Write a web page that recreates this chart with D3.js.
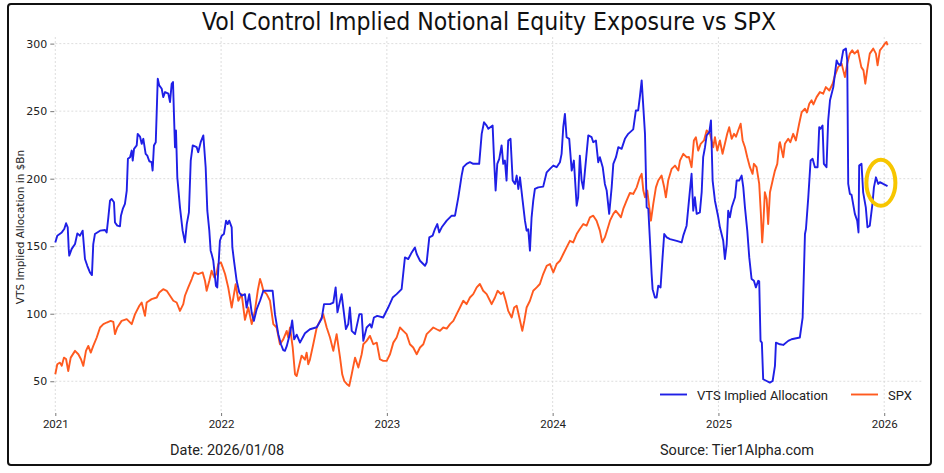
<!DOCTYPE html>
<html>
<head>
<meta charset="utf-8">
<script src="https://cdn.jsdelivr.net/npm/d3@7"></script>
<style>
  html, body { margin: 0; padding: 0; background: #fff; }
  svg { display: block; }
  .grid line { stroke: #d4d4d4; stroke-width: 0.8; stroke-dasharray: 2,2; }
  .axis path { display: none; }
  .axis line { stroke: #555; stroke-width: 0.8; }
</style>
</head>
<body>
<svg id="chart" width="944" height="473"></svg>
<script>
// VTS implied allocation ($Bn), [decimal year, value]
var vtsSeries = [[2021.000,152.8],[2021.012,157.8],[2021.039,160.2],[2021.054,162.7],[2021.065,167.0],[2021.075,164.0],[2021.081,148.0],[2021.084,143.0],[2021.099,148.0],[2021.119,151.6],[2021.133,159.5],[2021.149,157.8],[2021.165,161.5],[2021.179,140.5],[2021.193,135.5],[2021.209,130.6],[2021.221,128.6],[2021.229,151.6],[2021.239,159.0],[2021.270,161.5],[2021.300,162.0],[2021.310,160.2],[2021.320,171.4],[2021.330,183.7],[2021.340,185.0],[2021.354,182.5],[2021.360,167.6],[2021.374,165.2],[2021.390,164.7],[2021.396,172.6],[2021.407,177.6],[2021.420,181.3],[2021.431,191.2],[2021.438,214.7],[2021.451,215.9],[2021.461,220.8],[2021.467,213.4],[2021.475,222.1],[2021.491,224.6],[2021.497,233.2],[2021.511,231.2],[2021.521,225.8],[2021.531,229.5],[2021.545,218.4],[2021.555,217.1],[2021.567,212.9],[2021.581,212.2],[2021.587,206.0],[2021.595,224.6],[2021.606,227.0],[2021.618,274.0],[2021.627,269.1],[2021.642,266.6],[2021.651,260.4],[2021.662,264.1],[2021.682,262.9],[2021.692,256.7],[2021.702,270.3],[2021.710,271.5],[2021.716,246.8],[2021.722,223.3],[2021.728,235.7],[2021.736,201.0],[2021.752,178.8],[2021.768,161.5],[2021.782,152.8],[2021.793,166.4],[2021.806,175.1],[2021.817,213.4],[2021.829,224.6],[2021.853,223.3],[2021.862,219.6],[2021.877,227.0],[2021.893,232.0],[2021.907,208.5],[2021.917,176.3],[2021.929,161.5],[2021.937,146.7],[2021.943,144.2],[2021.953,139.2],[2021.969,120.7],[2021.977,119.5],[2021.993,154.0],[2022.004,157.8],[2022.017,159.0],[2022.030,168.9],[2022.040,166.4],[2022.049,168.9],[2022.064,164.0],[2022.068,149.1],[2022.078,139.2],[2022.094,124.4],[2022.110,115.7],[2022.124,113.3],[2022.144,114.5],[2022.154,104.6],[2022.170,114.5],[2022.185,100.5],[2022.198,94.7],[2022.215,103.4],[2022.235,109.6],[2022.255,117.0],[2022.295,117.0],[2022.311,117.0],[2022.325,99.7],[2022.345,84.9],[2022.361,77.4],[2022.375,73.0],[2022.385,72.5],[2022.396,76.0],[2022.416,85.5],[2022.429,95.0],[2022.441,81.0],[2022.456,84.5],[2022.476,78.6],[2022.506,85.5],[2022.536,88.5],[2022.577,90.0],[2022.607,96.5],[2022.621,107.1],[2022.657,107.1],[2022.677,108.3],[2022.691,119.5],[2022.702,101.0],[2022.727,114.5],[2022.737,104.6],[2022.753,88.6],[2022.767,92.3],[2022.777,104.6],[2022.788,87.3],[2022.808,84.9],[2022.834,99.7],[2022.848,99.7],[2022.858,79.9],[2022.878,89.8],[2022.898,92.3],[2022.908,89.8],[2022.922,97.2],[2022.942,98.4],[2022.978,97.2],[2023.008,104.6],[2023.035,112.0],[2023.059,114.5],[2023.089,118.2],[2023.109,141.7],[2023.129,140.5],[2023.150,145.4],[2023.169,149.1],[2023.180,144.2],[2023.200,139.2],[2023.230,135.5],[2023.240,137.9],[2023.256,156.5],[2023.276,157.8],[2023.290,162.7],[2023.304,166.4],[2023.316,160.2],[2023.331,164.0],[2023.361,168.9],[2023.391,172.6],[2023.411,172.6],[2023.431,186.2],[2023.451,202.3],[2023.461,208.5],[2023.481,211.0],[2023.501,212.2],[2023.521,211.0],[2023.557,211.0],[2023.572,233.2],[2023.586,241.8],[2023.602,239.3],[2023.612,236.9],[2023.638,239.3],[2023.646,215.9],[2023.656,191.2],[2023.666,211.0],[2023.678,214.7],[2023.692,224.6],[2023.702,211.0],[2023.712,213.4],[2023.722,198.6],[2023.732,228.3],[2023.746,229.5],[2023.759,198.6],[2023.773,196.1],[2023.783,202.3],[2023.793,192.4],[2023.803,201.0],[2023.819,183.7],[2023.833,168.9],[2023.843,161.5],[2023.853,162.5],[2023.863,146.7],[2023.873,171.4],[2023.883,183.7],[2023.893,192.4],[2023.913,193.6],[2023.943,194.1],[2023.964,204.7],[2023.984,207.3],[2024.004,209.7],[2024.024,208.5],[2024.044,212.2],[2024.054,218.4],[2024.064,238.1],[2024.074,248.0],[2024.084,230.7],[2024.100,229.5],[2024.115,206.0],[2024.128,213.4],[2024.145,180.0],[2024.154,186.2],[2024.164,217.1],[2024.175,198.6],[2024.185,192.4],[2024.195,206.0],[2024.215,232.0],[2024.235,230.7],[2024.245,227.0],[2024.261,228.3],[2024.275,212.2],[2024.285,215.9],[2024.302,208.5],[2024.315,196.1],[2024.326,191.2],[2024.341,174.0],[2024.356,193.6],[2024.366,211.0],[2024.382,215.9],[2024.396,223.3],[2024.416,222.1],[2024.436,229.5],[2024.456,233.2],[2024.486,236.5],[2024.502,250.5],[2024.516,250.5],[2024.526,260.4],[2024.537,272.8],[2024.547,253.0],[2024.557,233.2],[2024.567,178.8],[2024.577,177.6],[2024.587,154.0],[2024.597,129.4],[2024.603,118.2],[2024.617,112.0],[2024.627,112.0],[2024.637,120.7],[2024.651,119.5],[2024.663,141.7],[2024.673,159.0],[2024.688,156.5],[2024.708,155.3],[2024.748,154.0],[2024.778,152.8],[2024.788,157.8],[2024.808,165.2],[2024.828,191.2],[2024.838,203.6],[2024.848,176.3],[2024.858,186.2],[2024.869,174.0],[2024.888,175.0],[2024.899,190.0],[2024.908,215.9],[2024.919,223.3],[2024.929,232.0],[2024.945,234.4],[2024.955,243.1],[2024.965,198.6],[2024.979,183.7],[2024.999,171.4],[2025.009,164.0],[2025.029,154.0],[2025.039,140.5],[2025.050,151.6],[2025.059,176.3],[2025.069,171.4],[2025.080,178.8],[2025.100,186.2],[2025.110,198.6],[2025.125,198.6],[2025.140,202.3],[2025.150,193.6],[2025.160,178.8],[2025.174,161.5],[2025.186,141.7],[2025.200,125.7],[2025.214,124.4],[2025.226,119.5],[2025.240,124.4],[2025.246,124.0],[2025.254,79.9],[2025.262,78.6],[2025.270,51.5],[2025.291,50.2],[2025.310,49.0],[2025.327,50.2],[2025.341,61.4],[2025.347,78.6],[2025.371,77.4],[2025.391,76.9],[2025.421,79.9],[2025.441,81.1],[2025.491,82.4],[2025.508,97.2],[2025.522,159.0],[2025.528,162.7],[2025.542,186.2],[2025.556,213.4],[2025.568,214.7],[2025.582,208.5],[2025.598,208.5],[2025.608,238.1],[2025.616,236.9],[2025.628,239.3],[2025.636,211.0],[2025.652,208.5],[2025.662,243.1],[2025.673,258.0],[2025.693,267.8],[2025.703,277.7],[2025.713,287.6],[2025.722,285.2],[2025.737,283.9],[2025.753,295.0],[2025.769,296.3],[2025.777,287.6],[2025.783,196.1],[2025.793,188.7],[2025.803,188.0],[2025.823,173.9],[2025.837,168.9],[2025.845,160.2],[2025.849,209.7],[2025.863,211.0],[2025.873,189.9],[2025.889,178.8],[2025.899,164.0],[2025.913,165.2],[2025.929,181.3],[2025.938,193.6],[2025.950,201.0],[2025.964,196.1],[2025.974,197.4],[2025.994,196.1],[2026.014,194.9],[2026.020,194.5]];

// SPX (scaled onto the same axis), [decimal year, value]
var spxSeries = [[2021.000,55.2],[2021.012,62.6],[2021.028,63.8],[2021.039,61.5],[2021.052,67.5],[2021.065,66.5],[2021.078,57.6],[2021.093,67.5],[2021.119,72.5],[2021.139,70.0],[2021.155,66.3],[2021.169,61.4],[2021.185,72.5],[2021.199,76.2],[2021.214,71.2],[2021.229,76.2],[2021.250,82.4],[2021.270,89.8],[2021.290,92.3],[2021.310,93.5],[2021.334,94.7],[2021.350,94.0],[2021.360,84.9],[2021.374,89.8],[2021.400,94.7],[2021.431,96.0],[2021.461,92.3],[2021.481,99.7],[2021.507,105.9],[2021.521,108.3],[2021.541,98.4],[2021.551,108.3],[2021.581,110.8],[2021.612,112.0],[2021.627,115.7],[2021.651,118.2],[2021.672,117.0],[2021.692,113.3],[2021.712,109.6],[2021.732,108.3],[2021.752,102.1],[2021.772,107.1],[2021.782,113.3],[2021.802,119.5],[2021.823,125.7],[2021.838,130.6],[2021.862,129.4],[2021.889,130.6],[2021.903,124.4],[2021.913,117.0],[2021.929,124.4],[2021.943,131.8],[2021.959,126.9],[2021.973,130.0],[2021.983,136.8],[2021.999,138.0],[2022.010,134.3],[2022.024,129.4],[2022.043,119.5],[2022.064,104.6],[2022.088,121.9],[2022.104,109.6],[2022.124,114.5],[2022.144,95.5],[2022.164,104.6],[2022.185,92.3],[2022.204,102.1],[2022.221,117.0],[2022.235,125.7],[2022.245,122.0],[2022.255,117.0],[2022.275,114.5],[2022.295,109.6],[2022.305,101.0],[2022.315,92.3],[2022.335,89.8],[2022.355,77.4],[2022.375,81.0],[2022.396,87.3],[2022.405,82.4],[2022.416,89.8],[2022.432,75.0],[2022.446,55.2],[2022.456,53.9],[2022.472,62.0],[2022.486,69.0],[2022.506,66.0],[2022.516,71.2],[2022.526,62.6],[2022.536,66.0],[2022.556,77.4],[2022.577,89.8],[2022.597,94.7],[2022.616,99.7],[2022.637,89.8],[2022.657,82.4],[2022.677,72.5],[2022.697,84.9],[2022.717,68.0],[2022.731,55.0],[2022.743,50.2],[2022.758,48.0],[2022.773,46.5],[2022.788,55.2],[2022.808,67.5],[2022.828,60.2],[2022.848,70.0],[2022.858,77.4],[2022.878,79.9],[2022.898,83.6],[2022.918,77.4],[2022.939,78.6],[2022.958,66.3],[2022.978,65.1],[2022.999,65.1],[2023.019,70.0],[2023.039,78.6],[2023.059,82.4],[2023.079,89.8],[2023.099,87.3],[2023.119,84.9],[2023.139,77.4],[2023.159,75.0],[2023.180,70.0],[2023.200,75.0],[2023.220,77.4],[2023.240,84.9],[2023.260,87.3],[2023.280,89.8],[2023.300,88.5],[2023.320,87.3],[2023.340,89.8],[2023.361,89.0],[2023.381,92.3],[2023.401,94.7],[2023.421,99.7],[2023.441,104.6],[2023.461,109.6],[2023.481,107.1],[2023.501,112.0],[2023.521,114.5],[2023.542,119.5],[2023.561,122.0],[2023.581,117.0],[2023.602,114.5],[2023.622,109.6],[2023.632,107.1],[2023.652,112.0],[2023.668,117.0],[2023.688,114.5],[2023.702,116.0],[2023.717,109.6],[2023.732,102.1],[2023.753,97.2],[2023.768,104.6],[2023.783,105.9],[2023.799,97.2],[2023.817,87.3],[2023.829,94.7],[2023.843,104.6],[2023.863,109.6],[2023.883,117.0],[2023.904,119.5],[2023.923,122.0],[2023.943,129.4],[2023.964,135.5],[2023.984,136.8],[2024.004,130.6],[2024.024,136.8],[2024.044,139.2],[2024.064,144.2],[2024.084,149.1],[2024.104,154.0],[2024.124,152.8],[2024.145,159.0],[2024.164,162.7],[2024.185,166.4],[2024.205,165.2],[2024.225,171.4],[2024.245,172.6],[2024.265,168.9],[2024.285,161.5],[2024.299,152.8],[2024.315,156.5],[2024.331,162.7],[2024.346,168.9],[2024.366,173.9],[2024.380,176.3],[2024.396,173.9],[2024.412,171.4],[2024.426,177.6],[2024.446,183.7],[2024.466,189.5],[2024.486,188.7],[2024.507,193.6],[2024.526,201.0],[2024.537,203.6],[2024.547,191.2],[2024.557,186.2],[2024.571,191.2],[2024.583,178.8],[2024.593,168.9],[2024.607,181.3],[2024.623,193.6],[2024.637,198.6],[2024.657,202.3],[2024.673,193.6],[2024.683,186.2],[2024.697,198.6],[2024.718,207.3],[2024.738,209.7],[2024.758,206.0],[2024.768,213.4],[2024.788,218.4],[2024.808,215.9],[2024.822,216.0],[2024.838,208.5],[2024.852,228.3],[2024.864,230.7],[2024.878,220.8],[2024.893,225.8],[2024.913,228.3],[2024.929,235.7],[2024.949,233.2],[2024.969,223.3],[2024.979,230.7],[2024.993,220.8],[2025.009,228.3],[2025.025,218.4],[2025.039,225.8],[2025.053,233.2],[2025.065,238.1],[2025.080,229.5],[2025.094,233.2],[2025.106,231.0],[2025.119,235.7],[2025.134,240.7],[2025.146,228.3],[2025.160,223.3],[2025.174,215.9],[2025.190,208.5],[2025.206,203.6],[2025.214,211.0],[2025.230,208.5],[2025.246,196.1],[2025.256,174.0],[2025.264,152.8],[2025.270,164.0],[2025.280,190.0],[2025.291,185.0],[2025.300,166.4],[2025.311,190.0],[2025.327,198.6],[2025.341,206.0],[2025.355,211.0],[2025.367,225.8],[2025.371,227.0],[2025.391,215.9],[2025.401,225.8],[2025.421,229.5],[2025.434,227.0],[2025.451,233.2],[2025.467,228.3],[2025.487,240.7],[2025.502,249.2],[2025.522,251.8],[2025.534,249.0],[2025.548,255.5],[2025.562,258.0],[2025.573,255.0],[2025.592,260.4],[2025.612,264.1],[2025.632,262.9],[2025.648,267.8],[2025.669,265.3],[2025.689,270.3],[2025.703,276.5],[2025.722,282.6],[2025.743,285.2],[2025.763,275.2],[2025.777,285.2],[2025.793,292.6],[2025.807,295.0],[2025.821,292.6],[2025.841,295.0],[2025.862,282.6],[2025.875,280.2],[2025.886,270.3],[2025.897,280.2],[2025.913,292.6],[2025.934,296.3],[2025.950,292.6],[2025.960,283.9],[2025.974,295.0],[2025.990,297.5],[2026.004,300.0],[2026.014,301.2],[2026.020,298.8]];

var xTicks = [2021, 2022, 2023, 2024, 2025, 2026];
var yTicks = [50, 100, 150, 200, 250, 300];
var seriesNames = ["VTS Implied Allocation", "SPX"];
var seriesColors = ["#1f1fe6", "#ff5a1f"];
var highlight = [2025.98, 197]; // yellow ring around latest VTS reading

(function() {
    var svg = d3.select("#chart");
    var plotLeft = 55.3, plotRight = 923, plotTop = 37, plotBottom = 413;

    var x = d3.scaleLinear().domain([2021, 2026.234]).range([plotLeft, plotRight]);
    var y = d3.scaleLinear().domain([26.5, 304.9]).range([plotBottom, plotTop]);

    // frame
    svg.append("rect")
        .attr("x", 8).attr("y", 4)
        .attr("width", 923).attr("height", 461)
        .attr("rx", 3)
        .attr("fill", "#fff")
        .attr("stroke", "#111")
        .attr("stroke-width", 2);

    // grid
    var grid = svg.append("g").attr("class", "grid");
    grid.selectAll(".hg").data(yTicks).enter().append("line")
        .attr("x1", plotLeft).attr("x2", plotRight)
        .attr("y1", function(d) { return y(d); })
        .attr("y2", function(d) { return y(d); });
    grid.selectAll(".vg").data(xTicks).enter().append("line")
        .attr("y1", plotTop).attr("y2", plotBottom)
        .attr("x1", function(d) { return x(d); })
        .attr("x2", function(d) { return x(d); });

    // axes
    var yAxis = svg.append("g").attr("class", "axis")
        .attr("transform", "translate(" + (plotLeft - 1) + ",0)")
        .call(d3.axisLeft(y).tickValues(yTicks).tickSize(4).tickPadding(3));
    yAxis.selectAll("text")
        .style("font-family", "DejaVu Sans, sans-serif")
        .style("font-size", "11px")
        .style("fill", "#222");

    var xAxis = svg.append("g").attr("class", "axis")
        .attr("transform", "translate(0," + plotBottom + ")")
        .call(d3.axisBottom(x).tickValues(xTicks).tickFormat(d3.format("d")).tickSize(3).tickPadding(4));
    xAxis.selectAll("text")
        .style("font-family", "Roboto, sans-serif")
        .style("font-size", "11.5px")
        .style("fill", "#222");

    // y label
    svg.append("text")
        .attr("transform", "translate(24," + ((plotTop + plotBottom) / 2 + 2) + ") rotate(-90)")
        .attr("text-anchor", "middle")
        .style("font-family", "DejaVu Sans, sans-serif")
        .style("font-size", "10.5px")
        .style("fill", "#222")
        .text("VTS Implied Allocation in $Bn");

    // lines
    var line = d3.line()
        .x(function(d) { return x(d[0]); })
        .y(function(d) { return y(d[1]); });

    svg.append("path").datum(spxSeries)
        .attr("d", line)
        .attr("fill", "none")
        .attr("stroke", seriesColors[1])
        .attr("stroke-width", 1.9)
        .attr("stroke-linejoin", "round");

    svg.append("path").datum(vtsSeries)
        .attr("d", line)
        .attr("fill", "none")
        .attr("stroke", seriesColors[0])
        .attr("stroke-width", 1.9)
        .attr("stroke-linejoin", "round");

    // highlight ring
    svg.append("ellipse")
        .attr("cx", x(highlight[0]))
        .attr("cy", y(highlight[1]))
        .attr("rx", 14.5).attr("ry", 23)
        .attr("fill", "none")
        .attr("stroke", "#f7c600")
        .attr("stroke-width", 4);

    // title
    svg.append("text")
        .attr("x", 489).attr("y", 30)
        .attr("text-anchor", "middle")
        .attr("textLength", 574)
        .attr("lengthAdjust", "spacingAndGlyphs")
        .style("font-family", "DejaVu Sans Condensed, Roboto, sans-serif")
        .style("font-size", "25px")
        .style("fill", "#111")
        .text("Vol Control Implied Notional Equity Exposure vs SPX");

    // legend
    var legendX = [660, 851];
    var legend = svg.append("g");
    seriesNames.forEach(function(name, i) {
        legend.append("line")
            .attr("x1", legendX[i]).attr("x2", legendX[i] + 27)
            .attr("y1", 394.5).attr("y2", 394.5)
            .attr("stroke", seriesColors[i])
            .attr("stroke-width", 1.9);
        legend.append("text")
            .attr("x", legendX[i] + 37).attr("y", 399.5)
            .style("font-family", "Roboto, sans-serif")
            .style("font-size", "13px")
            .style("fill", "#222")
            .text(name);
    });

    // footer
    svg.append("text")
        .attr("x", 170).attr("y", 455)
        .style("font-family", "Roboto, sans-serif")
        .style("font-size", "14.5px")
        .style("fill", "#222")
        .text("Date: 2026/01/08");

    svg.append("text")
        .attr("x", 660).attr("y", 455)
        .style("font-family", "Roboto, sans-serif")
        .style("font-size", "14.5px")
        .style("fill", "#222")
        .text("Source: Tier1Alpha.com");
})();
</script>
</body>
</html>
